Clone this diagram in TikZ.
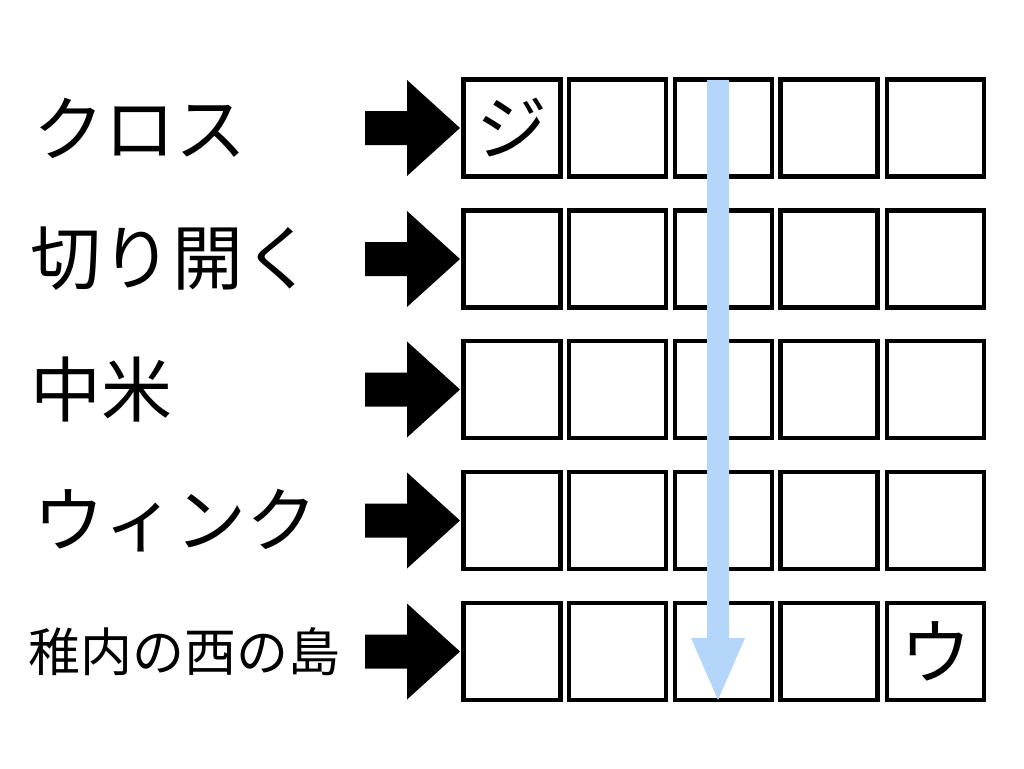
\documentclass[tikz,border=0pt]{standalone}
\usepackage{fontspec}
\newfontfamily\cjk{Noto Sans CJK JP}
\definecolor{lblue}{RGB}{180,214,250}
\begin{document}
\begin{tikzpicture}[x=1pt,y=-1pt,
  cell/.style={draw=black,line width=4.5pt,minimum width=97pt,minimum height=97pt,inner sep=0pt},
  big/.style={font=\cjk\fontsize{71}{74}\selectfont},
  lab/.style={anchor=west,inner sep=0pt,big}]
\useasboundingbox (0,0) rectangle (1024,768);
\foreach \r/\y in {1/128,2/259,3/389.5,4/520.5,5/651.5}{
  \foreach \c/\x in {1/512,2/617.5,3/723.5,4/829,5/935.5}{
    \node[cell] (c\r\c) at (\x,\y) {};
  }
  \fill[black] (365,\y-17) -- (407,\y-17) -- (407,\y-48) -- (460,\y) -- (407,\y+48) -- (407,\y+17) -- (365,\y+17) -- cycle;
}
\node[lab] (l1) at (33,128) {クロス};
\node[lab] (l2) at (30,259) {切り開く};
\node[lab] (l3) at (30,389.5) {中米};
\node[lab] (l4) at (33,520.5) {ウィンク};
\node[lab,font=\cjk\fontsize{52}{55}\selectfont] (l5) at (28,651.5) {稚内の西の島};
\node[big] at (c11) {ジ};
\node[big] at (c55) {ウ};
\coordinate (bt) at (718,80);
\coordinate (bb) at (718,700);
\fill[lblue] (707,80) -- (729,80) -- (729,638) -- (745,638) -- (bb) -- (691,638) -- (707,638) -- cycle;
\end{tikzpicture}
\end{document}
